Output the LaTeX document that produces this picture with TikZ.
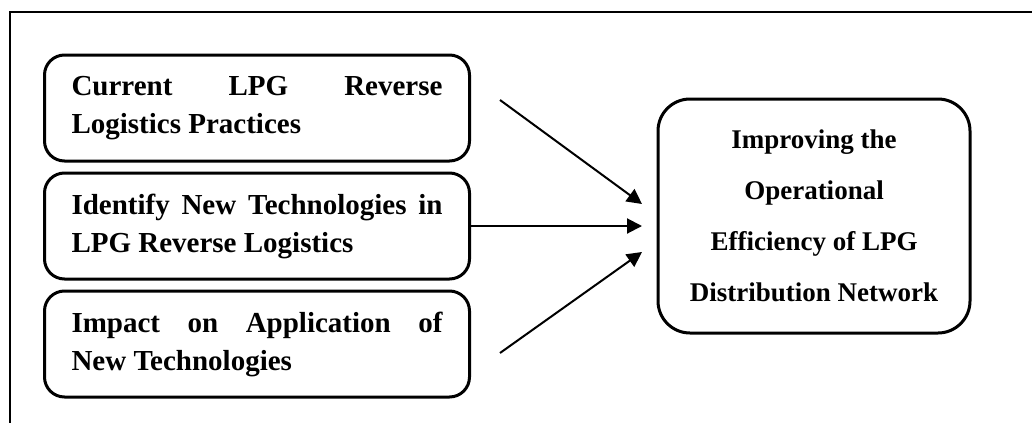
\documentclass[tikz,border=0pt]{standalone}
\usepackage{fontspec}
\setmainfont{Liberation Serif}
\usepackage{tikz}
\usetikzlibrary{positioning, arrows.meta}

\begin{document}
\begin{tikzpicture}[x=0.5pt, y=-0.5pt, >={Triangle[length=7.5pt,width=7.5pt]},
                leftbox/.style={draw, line width=1.5pt, rounded corners=10pt, text width=185.5pt,
                    inner xsep=13.5pt, minimum height=53pt, align=justify,
                    font=\fontsize{14.5}{19}\selectfont\bfseries},
                goalbox/.style={draw, line width=1.5pt, rounded corners=16pt, minimum width=156pt,
                    minimum height=117pt, align=center, font=\fontsize{13.5}{25.5}\selectfont\bfseries},
                node distance=4.5pt]

                \useasboundingbox (0,0) rectangle (1032,423);
                \draw[line width=1pt] (1032,12) -- (10,12) -- (10,423);

                \node[leftbox] (practices) at (257,108) {Current\hfill LPG\hfill Reverse\\Logistics Practices};
                \node[leftbox] (newtech) [below=of practices] {Identify\hfill New\hfill Technologies\hfill in\\LPG Reverse Logistics};
                \node[leftbox] (impact) [below=of newtech] {Impact\hfill on\hfill Application\hfill of\\New Technologies};
                \node[goalbox] (efficiency) at (814,216) {Improving the\\Operational\\Efficiency of LPG\\Distribution Network};

                \coordinate (from1) at (500,100);
                \coordinate (from3) at (500,353);
                \coordinate (to1) at (642,204);
                \coordinate (to2) at (642,226);
                \coordinate (to3) at (642,252);

                \draw[->, line width=1pt] (from1) -- (to1);
                \draw[->, line width=1pt] (newtech.east |- to2) -- (to2);
                \draw[->, line width=1pt] (from3) -- (to3);
            \end{tikzpicture}
\end{document}
